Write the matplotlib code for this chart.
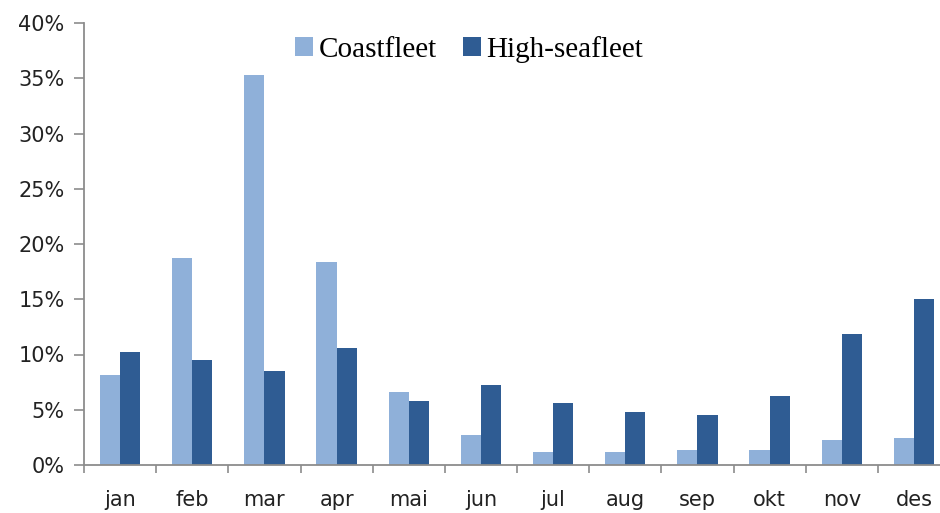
import matplotlib.pyplot as plt
import numpy as np

months = ['jan', 'feb', 'mar', 'apr', 'mai', 'jun', 'jul', 'aug', 'sep', 'okt', 'nov', 'des']
coastfleet = [8.1, 18.7, 35.3, 18.4, 6.6, 2.7, 1.2, 1.2, 1.4, 1.4, 2.3, 2.4]
highsea = [10.2, 9.5, 8.5, 10.6, 5.8, 7.2, 5.6, 4.8, 4.5, 6.2, 11.9, 15.0]
yticks = [0, 5, 10, 15, 20, 25, 30, 35, 40]

light = '#8FB0D9'
dark = '#2F5C93'
axcol = '#8C8C8C'

fig = plt.figure(figsize=(9.4, 5.13), dpi=100)
# axes run a bit past the right edge, the last category is cut off
ax = fig.add_axes([84 / 940, 48 / 513, 866 / 940, 442 / 513])

x = np.arange(len(months))
w = 0.28
ax.bar(x - w / 2, coastfleet, w, color=light, label='Coastfleet')
ax.bar(x + w / 2, highsea, w, color=dark, label='High-seafleet')

ax.set_xlim(-0.5, len(months) - 0.5)
ax.set_ylim(0, 40)
ax.set_yticks(yticks)
ax.set_yticklabels(['%d%%' % v for v in yticks])
ax.set_xticks(x)
ax.set_xticklabels(months)
ax.set_xticks(np.arange(len(months) + 1) - 0.5, minor=True)

for s in ['top', 'right']:
    ax.spines[s].set_visible(False)
for s in ['left', 'bottom']:
    ax.spines[s].set_color(axcol)
    ax.spines[s].set_linewidth(1.3)

ax.tick_params(axis='y', length=7, width=1.2, color=axcol, labelsize=15, pad=7,
               labelcolor='#222222')
ax.tick_params(axis='x', which='major', length=0, labelsize=15, pad=18,
               labelcolor='#222222')
ax.tick_params(axis='x', which='minor', length=6, width=1.2, color=axcol)
for lab in ax.get_xticklabels() + ax.get_yticklabels():
    lab.set_fontfamily('DejaVu Sans')

leg = ax.legend(loc='upper center', bbox_to_anchor=(0.445, 1.03), ncol=2, frameon=False,
                prop={'family': 'Liberation Serif', 'size': 21},
                handlelength=0.6, handleheight=0.6, handletextpad=0.2, columnspacing=0.9)

plt.savefig('out.png', dpi=100)
